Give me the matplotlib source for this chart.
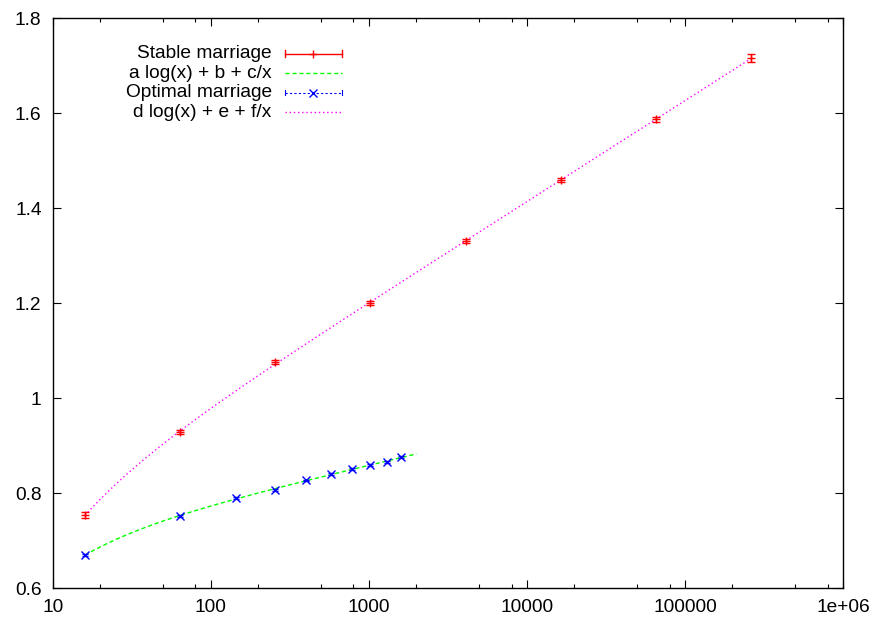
import numpy as np
import matplotlib
matplotlib.use("Agg")
import matplotlib.pyplot as plt
from matplotlib.lines import Line2D
from matplotlib.ticker import LogLocator, FuncFormatter, NullFormatter

plt.rcParams['font.family'] = ['Liberation Sans', 'DejaVu Sans']

# ---- data ----
stable_n = [16, 64, 256, 1024, 4096, 16384, 65536, 262144]
stable_y = [0.754, 0.929, 1.076, 1.201, 1.331, 1.460, 1.587, 1.716]
stable_err = [0.006, 0.005, 0.004, 0.004, 0.004, 0.004, 0.005, 0.009]

optimal_n = [16, 64, 144, 256, 400, 576, 784, 1024, 1296, 1600]
optimal_y = [0.670, 0.752, 0.791, 0.807, 0.827, 0.840, 0.852, 0.860, 0.865, 0.876]
optimal_err = [0.002, 0.002, 0.002, 0.002, 0.002, 0.002, 0.002, 0.002, 0.002, 0.002]

optimal_fit_range = (16, 2000)
stable_fit_range = (16, 262144)

legend_labels = ["Stable marriage", "a log(x) + b + c/x",
                 "Optimal marriage", "d log(x) + e + f/x"]

x_ticks = [10, 100, 1000, 10000, 100000, 1000000]
y_ticks = [0.6, 0.8, 1.0, 1.2, 1.4, 1.6, 1.8]

FS = 13.8


def fit_curve(n, y, lo, hi):
    n = np.asarray(n, float)
    A = np.column_stack([np.log(n), np.ones_like(n), 1.0 / n])
    coef, *_ = np.linalg.lstsq(A, np.asarray(y, float), rcond=None)
    xs = np.geomspace(lo, hi, 400)
    return xs, coef[0] * np.log(xs) + coef[1] + coef[2] / xs


fig = plt.figure(figsize=(8.79, 6.23), dpi=100)
ax = fig.add_axes([0.05995, 0.0557, 0.959 - 0.05995, 0.9706 - 0.0557])

RED = '#ff0000'
GREEN = '#00ff00'
BLUE = '#0000ff'
MAG = '#ff00ff'

# fits
gx, gy = fit_curve(optimal_n, optimal_y, *optimal_fit_range)
mx, my = fit_curve(stable_n, stable_y, *stable_fit_range)
ax.plot(gx, gy, color=GREEN, lw=1.0, ls=(0, (3, 2)))
ax.plot(mx, my, color=MAG, lw=1.0, ls=(0, (1, 2)))

# data
ax.errorbar(stable_n, stable_y, yerr=stable_err, fmt='+', color=RED,
            ms=6, mew=1.0, elinewidth=1.0, capsize=3, capthick=1.0)
ax.errorbar(optimal_n, optimal_y, yerr=optimal_err, fmt='x', color=BLUE,
            ms=5.5, mew=1.0, elinewidth=0.8, capsize=2, capthick=0.8)

ax.set_xscale('log')
ax.set_xlim(10, 1e6)
ax.set_ylim(0.6, 1.8)
ax.set_xticks(x_ticks)
ax.xaxis.set_major_formatter(FuncFormatter(lambda v, p: '%g' % v))
ax.xaxis.set_minor_locator(LogLocator(base=10, subs=[2, 5, 8]))
ax.xaxis.set_minor_formatter(NullFormatter())
ax.set_yticks(y_ticks)
ax.yaxis.set_major_formatter(FuncFormatter(lambda v, p: '%g' % round(v, 6)))

ax.tick_params(axis='both', which='both', direction='in', top=True, right=True,
               labelsize=FS, width=0.8, colors='black')
ax.tick_params(axis='x', which='major', length=5.5, pad=8)
ax.tick_params(axis='x', which='minor', length=2.8)
ax.tick_params(axis='y', which='major', length=6, pad=8)
for s in ax.spines.values():
    s.set_linewidth(1.0)

# manual gnuplot-style legend (text right-aligned, samples right)
text_x = (271.7 - 52.7) / (843 - 52.7)
s0 = (285 - 52.7) / (843 - 52.7)
s1 = (342 - 52.7) / (843 - 52.7)
sm = (s0 + s1) / 2
rows_px = [53.5, 73.0, 92.7, 112.4]
rows = [(588.3 - r) / (588.3 - 18.3) for r in rows_px]
tr = ax.transAxes
for lab, yy in zip(legend_labels, rows):
    ax.text(text_x, yy, lab, transform=tr, ha='right', va='center', fontsize=FS)

cap_h = 0.0065
# stable sample
ax.add_line(Line2D([s0, s1], [rows[0]] * 2, color=RED, lw=1.0, transform=tr))
for xx in (s0, s1):
    ax.add_line(Line2D([xx, xx], [rows[0] - cap_h, rows[0] + cap_h], color=RED, lw=1.0, transform=tr))
ax.add_line(Line2D([sm], [rows[0]], color=RED, marker='+', ms=6, mew=1.0, ls='none', transform=tr))
# green sample
ax.add_line(Line2D([s0, s1], [rows[1]] * 2, color=GREEN, lw=1.0, ls=(0, (3, 2)), transform=tr))
# blue sample
ax.add_line(Line2D([s0, s1], [rows[2]] * 2, color=BLUE, lw=0.8, ls=(0, (2, 2)), transform=tr))
for xx in (s0, s1):
    ax.add_line(Line2D([xx, xx], [rows[2] - cap_h * 0.6, rows[2] + cap_h * 0.6], color=BLUE, lw=0.8, transform=tr))
ax.add_line(Line2D([sm], [rows[2]], color=BLUE, marker='x', ms=5.5, mew=1.0, ls='none', transform=tr))
# magenta sample
ax.add_line(Line2D([s0, s1], [rows[3]] * 2, color=MAG, lw=1.0, ls=(0, (1, 2)), transform=tr))

fig.savefig('out.png', dpi=100)
